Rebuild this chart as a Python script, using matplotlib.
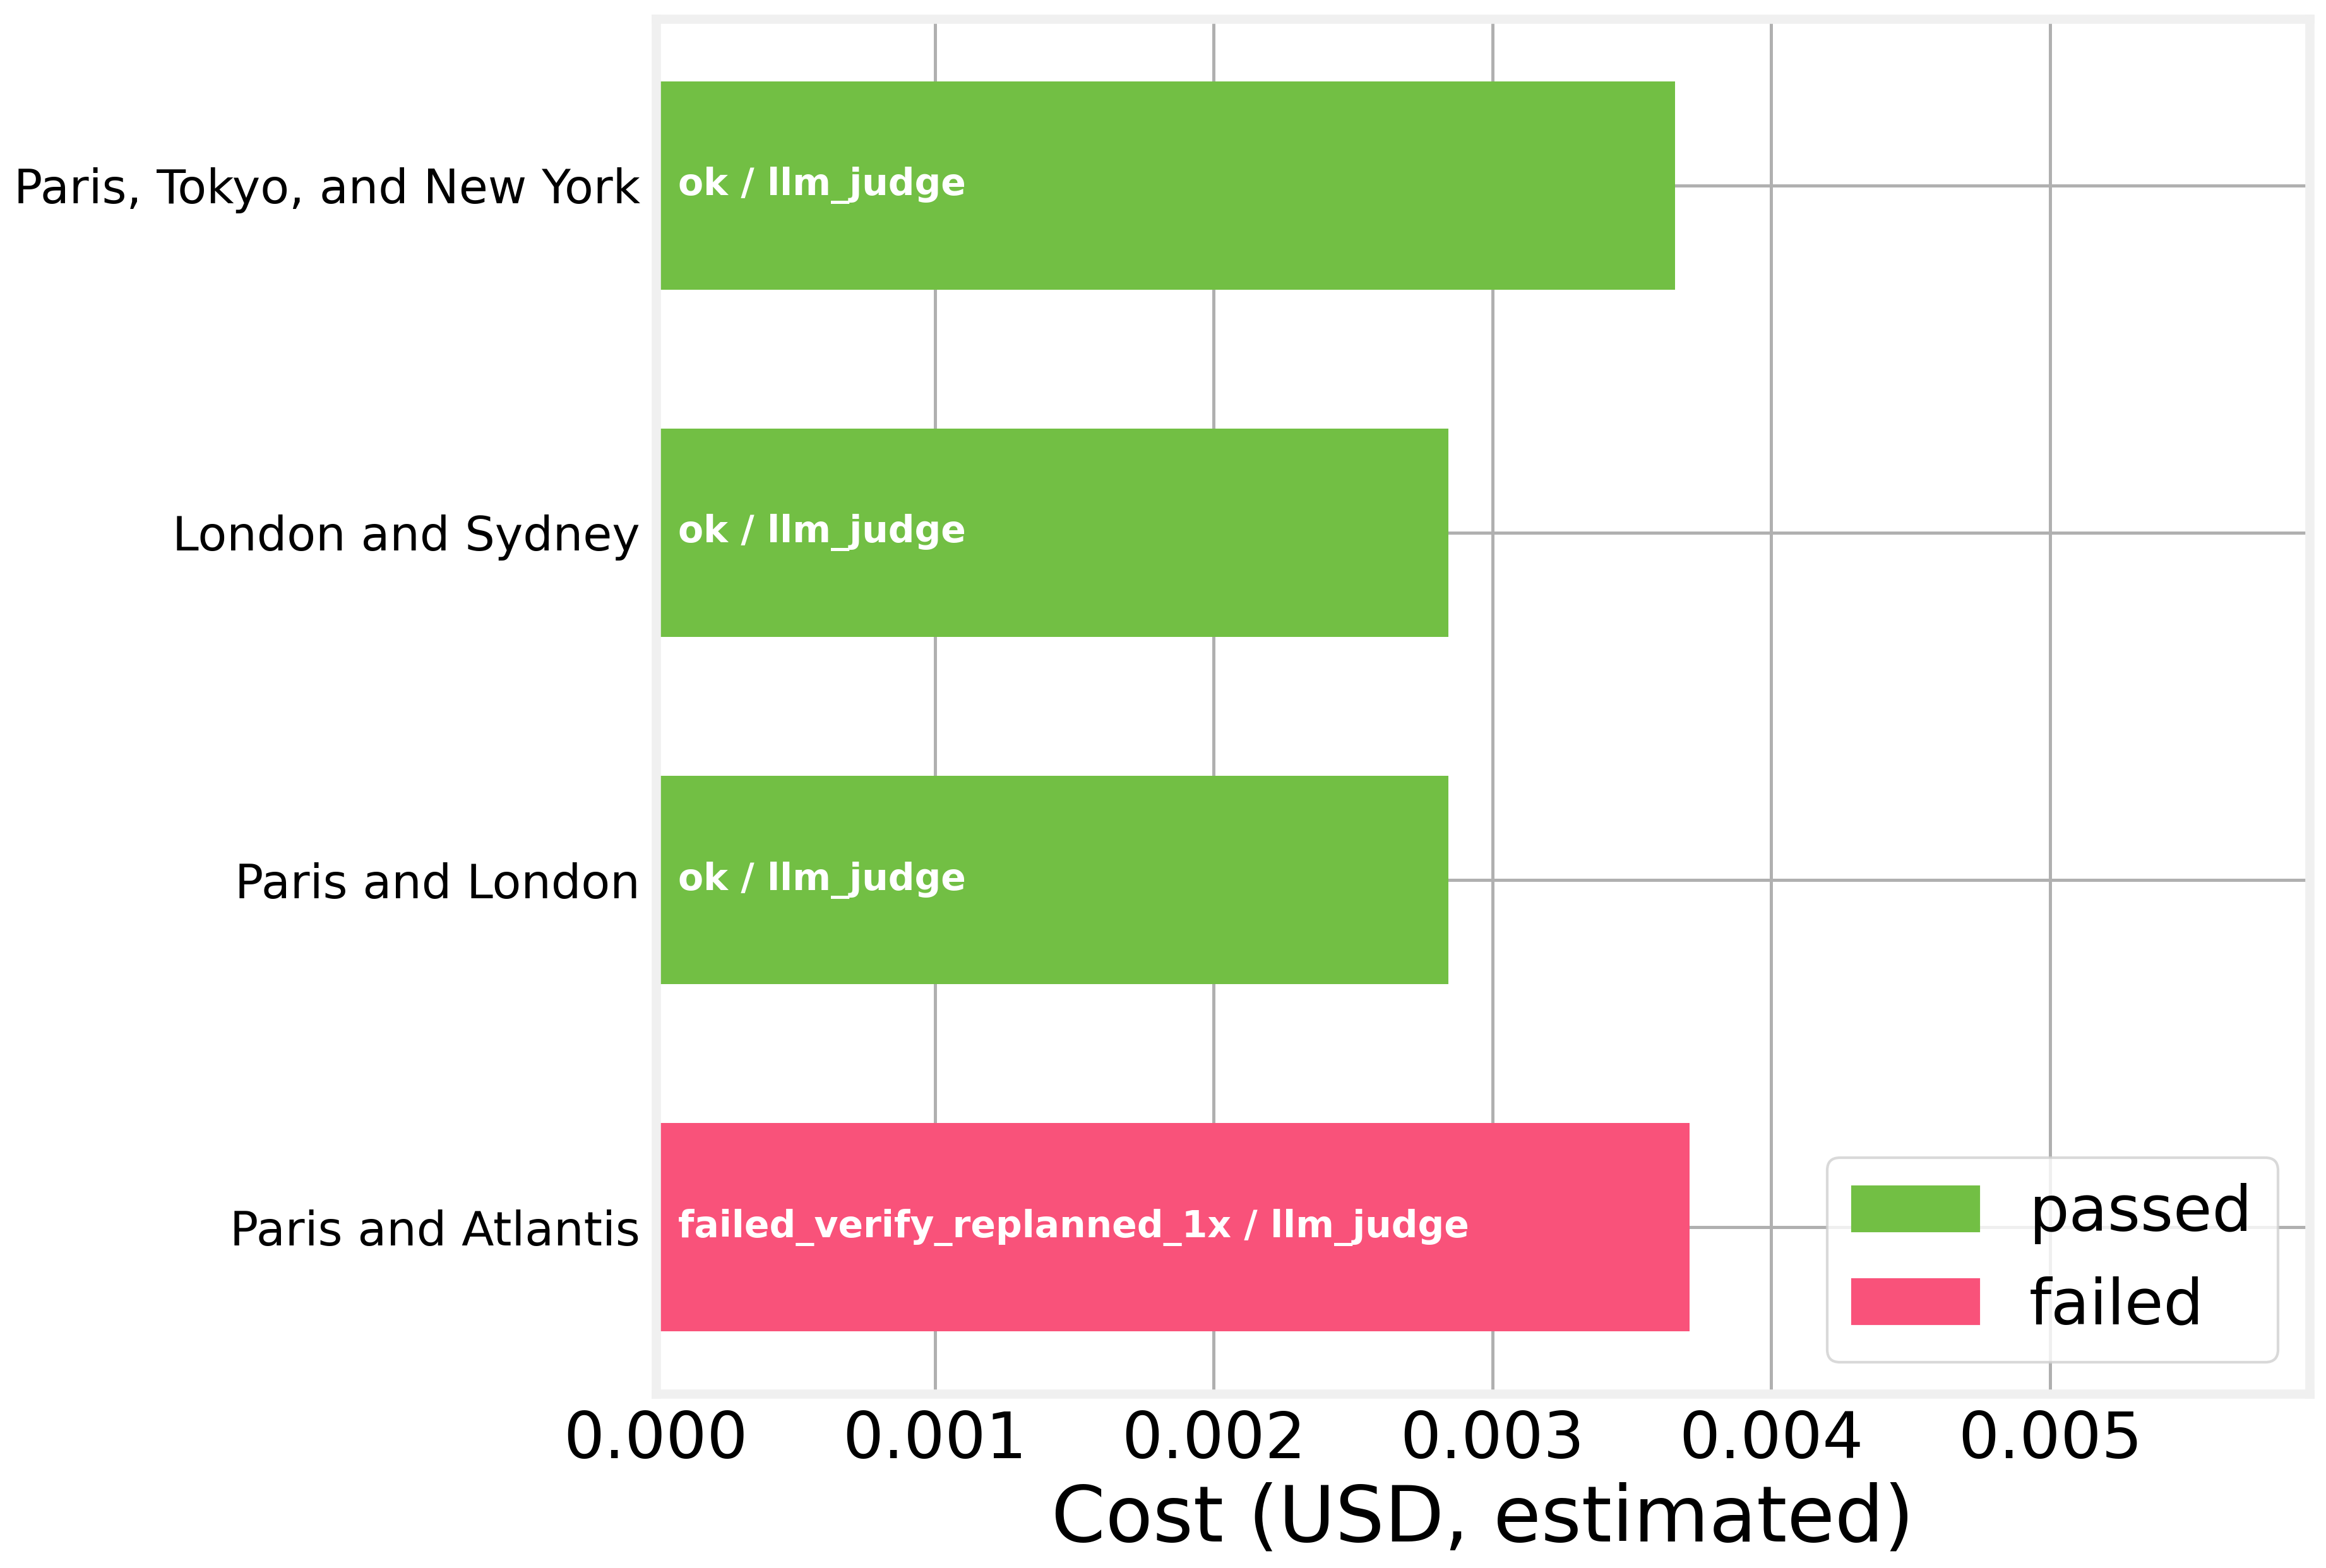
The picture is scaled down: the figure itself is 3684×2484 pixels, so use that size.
import numpy as np
import matplotlib.pyplot as plt
from matplotlib.patches import Patch

# данные
queries = ['Paris and Atlantis', 'Paris and London', 'London and Sydney', 'Paris, Tokyo, and New York']
costs = [0.003707, 0.002842, 0.002842, 0.003654]
statuses = ['failed_verify_replanned_1x', 'ok', 'ok', 'ok']
judges = ['llm_judge', 'llm_judge', 'llm_judge', 'llm_judge']
passed = [False, True, True, True]

green = '#72bf44'
pink = '#f9527a'

fig, ax = plt.subplots(figsize=(12.28, 8.28), dpi=300)
fig.subplots_adjust(left=0.282, right=0.993, top=0.988, bottom=0.111)

y = np.arange(len(queries))
colors = [green if p else pink for p in passed]
ax.barh(y, costs, height=0.6, color=colors, zorder=2)

for yi, s, j in zip(y, statuses, judges):
    ax.text(0.00008, yi, f'{s} / {j}', color='white', fontsize=14,
            fontweight='bold', va='center', ha='left', zorder=3)

ax.set_yticks(y)
ax.set_yticklabels(queries, fontsize=18)
ax.set_xlim(0, max(costs) * 1.6)
ax.set_xticks([0, 0.001, 0.002, 0.003, 0.004, 0.005])
ax.set_xticklabels(['0.000', '0.001', '0.002', '0.003', '0.004', '0.005'], fontsize=24.5)
ax.set_xlabel('Cost (USD, estimated)', fontsize=29.5, labelpad=4)
ax.tick_params(length=0, pad=6)

ax.set_axisbelow(True)
ax.grid(True, color='#b0b0b0', linewidth=1.2)
for sp in ax.spines.values():
    sp.set_color('#f0f0f0')
    sp.set_linewidth(3.5)

handles = [Patch(color=green, label='passed'), Patch(color=pink, label='failed')]
ax.legend(handles=handles, loc='lower right', fontsize=24, framealpha=0.8,
          edgecolor='#d0d0d0')

fig.savefig('out.png', dpi=300)
